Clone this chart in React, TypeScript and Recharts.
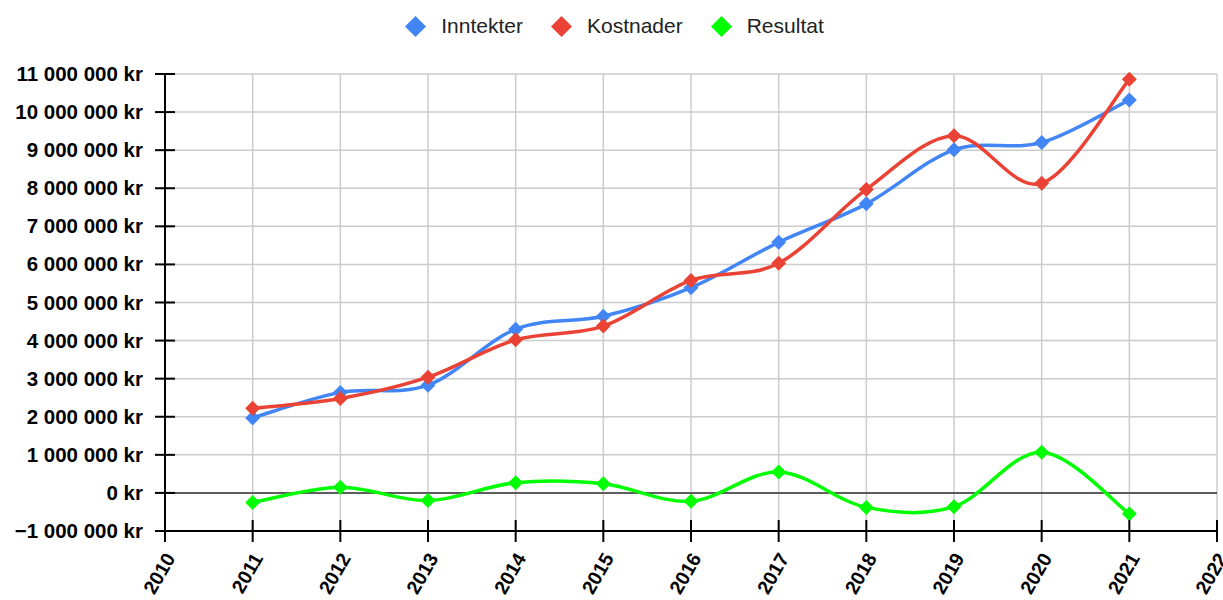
import React from "react";
import { LineChart, Line, XAxis, YAxis, CartesianGrid, ReferenceLine, Legend } from "recharts";

const YEARS = [2011, 2012, 2013, 2014, 2015, 2016, 2017, 2018, 2019, 2020, 2021];
const INNTEKTER = [1970000, 2640000, 2830000, 4300000, 4640000, 5390000, 6580000, 7590000, 9010000, 9200000, 10320000];
const KOSTNADER = [2220000, 2480000, 3040000, 4020000, 4380000, 5580000, 6030000, 7970000, 9380000, 8130000, 10860000];
const RESULTAT = [-250000, 150000, -200000, 270000, 240000, -220000, 550000, -380000, -360000, 1070000, -550000];

const X_TICKS = [2010, 2011, 2012, 2013, 2014, 2015, 2016, 2017, 2018, 2019, 2020, 2021, 2022];
const Y_TICKS = [-1000000, 0, 1000000, 2000000, 3000000, 4000000, 5000000, 6000000, 7000000, 8000000, 9000000, 10000000, 11000000];

const SERIES = [
  { key: "inntekter", name: "Inntekter", color: "#4285f4" },
  { key: "kostnader", name: "Kostnader", color: "#ea4335" },
  { key: "resultat", name: "Resultat", color: "#00ff00" },
];

const FONT = '"Liberation Sans", Arial, sans-serif';

const data = YEARS.map((year, i) => ({
  year,
  inntekter: INNTEKTER[i],
  kostnader: KOSTNADER[i],
  resultat: RESULTAT[i],
}));

// norwegian style: "1 000 000 kr", real minus sign for negatives
const formatKr = (v: number) => {
  const s = Math.abs(v).toString().replace(/\B(?=(\d{3})+(?!\d))/g, " ");
  return (v < 0 ? "\u2212" : "") + s + " kr";
};

// catmull-rom style smoothing, close to the "function" curves of the original
const smoothCurve = (context: any) => {
  let pts: number[][] = [];
  return {
    areaStart() {},
    areaEnd() {},
    lineStart() {
      pts = [];
    },
    point(x: number, y: number) {
      pts.push([+x, +y]);
    },
    lineEnd() {
      const n = pts.length;
      if (!n) return;
      context.moveTo(pts[0][0], pts[0][1]);
      for (let i = 0; i < n - 1; i++) {
        const p0 = pts[i - 1] || pts[i];
        const p1 = pts[i];
        const p2 = pts[i + 1];
        const p3 = pts[i + 2] || p2;
        context.bezierCurveTo(
          p1[0] + (p2[0] - p0[0]) / 6,
          p1[1] + (p2[1] - p0[1]) / 6,
          p2[0] - (p3[0] - p1[0]) / 6,
          p2[1] - (p3[1] - p1[1]) / 6,
          p2[0],
          p2[1]
        );
      }
    },
  };
};

const diamond = (color: string) => (props: any) => {
  const { cx, cy, index } = props;
  if (cx == null || cy == null) return <g key={index} />;
  const r = 7.5;
  return (
    <polygon
      key={index}
      points={`${cx},${cy - r} ${cx + r},${cy} ${cx},${cy + r} ${cx - r},${cy}`}
      fill={color}
    />
  );
};

const YTick = ({ x, y, payload }: any) => (
  <g>
    <line x1={x - 10} x2={x + 10} y1={y} y2={y} stroke="#000" strokeWidth={2} />
    <text x={x - 22} y={y} dy={7} textAnchor="end" fontFamily={FONT} fontWeight="bold" fontSize={20.5} fill="#000">
      {formatKr(payload.value)}
    </text>
  </g>
);

const XTick = ({ x, y, payload }: any) => {
  const tx = x + 11;
  const ty = y + 27;
  return (
    <g>
      <line x1={x} x2={x} y1={y - 11} y2={y + 11} stroke="#000" strokeWidth={2} />
      <text x={tx} y={ty} textAnchor="end" transform={`rotate(-60 ${tx} ${ty})`} fontFamily={FONT} fontWeight="bold" fontSize={19.5} fill="#000">
        {payload.value}
      </text>
    </g>
  );
};

const LegendContent = () => (
  <div style={{ display: "flex", justifyContent: "center", alignItems: "center", height: 40, paddingLeft: 6, fontFamily: FONT, fontSize: 21, color: "#222" }}>
    {SERIES.map((s, i) => (
      <div key={s.key} style={{ display: "flex", alignItems: "center", marginLeft: i ? 28 : 0 }}>
        <svg width={21} height={21} style={{ marginRight: 15 }}>
          <polygon points="10.5,0 21,10.5 10.5,21 0,10.5" fill={s.color} />
        </svg>
        <span>{s.name}</span>
      </div>
    ))}
  </div>
);

export default function App() {
  return (
    <div style={{ position: "absolute", left: 0, top: 0, width: 1223, height: 600, background: "#fff" }}>
      <LineChart width={1223} height={600} data={data} margin={{ top: 34, right: 6, bottom: 0, left: 0 }}>
        <CartesianGrid stroke="#cccccc" strokeWidth={1.5} />
        <XAxis
          dataKey="year"
          type="number"
          domain={[2010, 2022]}
          ticks={X_TICKS}
          interval={0}
          height={69}
          tickSize={0}
          tickMargin={0}
          tickLine={false}
          axisLine={{ stroke: "#000", strokeWidth: 2 }}
          tick={<XTick />}
        />
        <YAxis
          type="number"
          domain={[-1000000, 11000000]}
          ticks={Y_TICKS}
          interval={0}
          width={165}
          tickSize={0}
          tickMargin={0}
          tickLine={false}
          axisLine={{ stroke: "#000", strokeWidth: 2 }}
          tick={<YTick />}
        />
        <ReferenceLine y={0} stroke="#333" strokeWidth={1.5} />
        <Legend verticalAlign="top" align="center" content={<LegendContent />} wrapperStyle={{ top: 6, left: 0, width: 1223, height: 40 }} />
        {SERIES.map((s) => (
          <Line
            key={s.key}
            dataKey={s.key}
            name={s.name}
            type={smoothCurve as any}
            stroke={s.color}
            strokeWidth={3.5}
            dot={diamond(s.color)}
            activeDot={false}
            isAnimationActive={false}
          />
        ))}
      </LineChart>
    </div>
  );
}
